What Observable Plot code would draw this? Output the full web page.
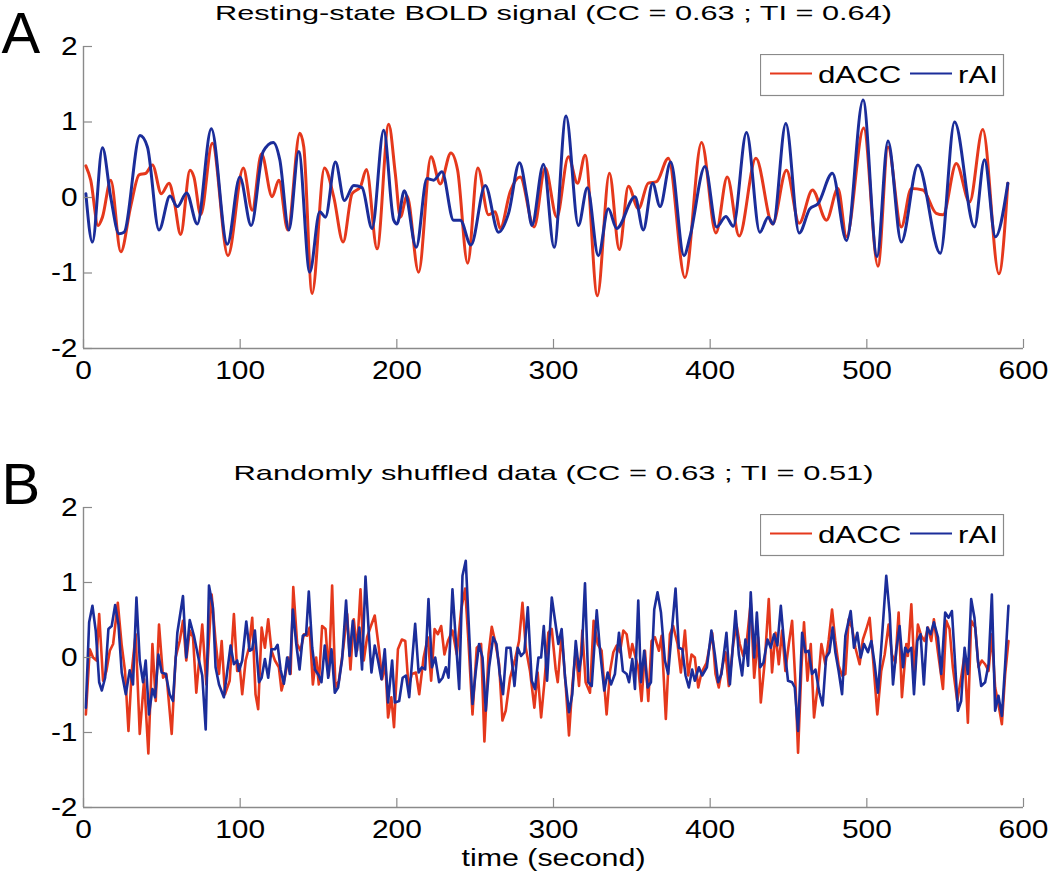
<!DOCTYPE html>
<html><head><meta charset="utf-8">
<script src="https://cdn.jsdelivr.net/npm/d3@7"></script>
<script src="https://cdn.jsdelivr.net/npm/@observablehq/plot@0.6"></script>
<style>
body{margin:0;background:#fff;}
#wrap{position:relative;width:1050px;height:876px;overflow:hidden;}
#wrap svg{display:block;}
.legend{position:absolute;left:760px;}
</style></head><body><div id="wrap"></div>
<script>
// ---------- data ----------
const xTicks = [0, 100, 200, 300, 400, 500, 600];
const yTicks = [-2, -1, 0, 1, 2];
const seriesNames = ["dACC", "rAI"];
const titleA = "Resting-state BOLD signal (CC = 0.63 ; TI = 0.64)";
const titleB = "Randomly shuffled data (CC = 0.63 ; TI = 0.51)";
const xLabel = "time (second)";

const restDACC = [[1.5,0.42],[4.6,0.23],[9.3,-0.37],[12.1,-0.26],[17.4,0.23],[23.8,-0.72],[30.1,-0.12],[35.5,0.30],[39.7,0.32],[44.0,0.43],[49.7,0.05],[54.6,0.19],[57.8,-0.04],[62.0,-0.49],[68.0,0.36],[70.5,0.27],[74.8,-0.23],[82.2,0.72],[92.2,-0.77],[102.0,0.39],[107.7,-0.17],[113.6,0.58],[120.4,0.01],[124.7,0.23],[130.4,-0.43],[138.1,0.85],[140.6,0.67],[145.9,-1.27],[153.8,0.39],[159.7,0.01],[165.7,-0.59],[171.4,0.05],[176.7,0.14],[180.6,0.37],[187.4,-0.68],[194.8,0.97],[199.0,0.32],[202.2,-0.26],[206.5,0.02],[213.9,-0.99],[221.8,0.54],[227.7,0.18],[234.5,0.59],[238.8,0.36],[245.2,-0.87],[251.7,0.39],[258.5,-0.23],[262.8,-0.19],[266.0,-0.41],[272.4,0.08],[278.7,0.27],[287.6,-0.39],[294.7,0.39],[302.1,-0.26],[309.5,0.54],[315.3,0.19],[320.2,0.56],[328.0,-1.30],[335.7,0.32],[342.0,-0.69],[347.8,0.15],[354.2,-0.15],[360.5,0.19],[365.8,0.21],[373.3,0.52],[383.9,-1.06],[394.5,0.73],[403.7,-0.47],[410.9,0.27],[418.5,-0.51],[429.2,0.52],[439.8,-0.35],[448.7,0.36],[456.8,-0.34],[465.3,0.10],[474.2,-0.30],[481.6,0.12],[487.0,-0.52],[498.0,0.92],[507.1,-0.91],[513.5,0.67],[522.0,-0.39],[528.4,0.12],[535.8,0.10],[544.3,-0.21],[548.6,-0.23],[557.1,0.45],[565.6,-0.06],[574.0,0.90],[584.3,-1.01],[590.0,0.19]];

const restRAI = [[1.5,0.05],[5.7,-0.59],[12.1,0.66],[17.4,0.00],[22.7,-0.48],[25.9,-0.46],[36.1,0.82],[40.8,0.67],[48.2,-0.43],[55.2,0.02],[59.9,-0.12],[65.8,0.06],[72.6,-0.35],[81.6,0.91],[91.8,-0.62],[99.8,0.27],[107.0,-0.37],[114.7,0.61],[121.1,0.73],[125.3,0.50],[131.1,-0.43],[137.4,0.61],[144.4,-0.99],[150.8,-0.19],[154.4,-0.26],[160.8,0.47],[166.5,-0.04],[172.5,0.16],[177.8,0.13],[184.2,-0.41],[191.6,0.89],[198.0,-0.30],[200.1,-0.35],[204.8,0.09],[212.4,-0.66],[219.2,0.25],[223.5,0.23],[228.8,0.34],[236.2,-0.30],[240.5,-0.30],[247.3,-0.63],[256.4,0.16],[264.9,-0.46],[271.3,-0.21],[278.3,0.46],[283.0,0.01],[286.2,-0.37],[293.6,0.44],[300.4,-0.66],[308.0,1.08],[315.9,-0.37],[321.6,0.13],[328.6,-0.77],[335.0,-0.15],[340.3,-0.41],[352.0,0.01],[357.3,-0.43],[363.3,0.19],[368.0,-0.12],[374.8,0.47],[383.3,-0.77],[387.1,-0.52],[396.7,0.41],[404.1,-0.39],[410.0,-0.25],[414.7,-0.38],[423.2,0.86],[431.7,-0.46],[437.0,-0.26],[440.2,-0.35],[448.3,0.98],[456.8,-0.47],[463.6,-0.15],[468.9,-0.08],[478.0,0.32],[487.0,-0.57],[497.6,1.29],[506.5,-0.78],[513.5,0.75],[522.0,-0.59],[532.6,0.43],[546.9,-0.74],[556.0,1.00],[568.7,-0.39],[575.1,0.50],[582.1,-0.52],[590.0,0.19]];

const shufDACC = [[1.5,-0.76],[4.0,0.11],[6.1,0.00],[8.3,-0.04],[10.0,0.58],[12.5,-0.31],[14.6,-0.18],[16.8,0.09],[18.9,0.18],[21.9,0.73],[24.4,0.16],[26.5,-0.18],[28.7,-0.98],[30.8,-0.18],[33.3,0.31],[35.9,-1.02],[38.7,-0.29],[41.4,-1.28],[44.0,0.18],[46.1,-0.58],[48.2,0.44],[50.8,-0.27],[52.9,-0.22],[56.3,-1.02],[58.8,0.00],[61.4,0.22],[63.5,0.49],[65.6,-0.04],[67.8,0.36],[69.9,0.27],[72.0,-0.47],[75.8,0.44],[78.4,-0.36],[81.8,0.84],[84.3,0.22],[86.5,-0.22],[88.2,0.22],[90.3,-0.49],[93.3,-0.31],[96.0,0.58],[98.1,-0.18],[99.6,-0.09],[101.3,-0.49],[103.5,-0.04],[105.6,0.13],[107.7,0.53],[109.8,-0.49],[111.5,-0.69],[113.7,0.40],[115.8,0.13],[117.9,0.51],[120.0,0.09],[122.2,-0.04],[124.7,-0.13],[126.4,-0.44],[128.5,-0.27],[130.7,0.00],[132.2,-0.22],[133.9,0.94],[136.4,0.18],[138.5,0.09],[140.7,0.31],[142.8,0.29],[144.3,0.40],[146.4,-0.36],[148.5,0.00],[150.2,-0.36],[152.3,0.42],[154.5,0.38],[156.6,-0.24],[158.7,0.96],[160.8,-0.40],[163.0,-0.31],[165.5,0.07],[168.3,0.58],[170.4,-0.16],[172.5,0.51],[174.6,0.09],[176.8,0.91],[178.9,-0.04],[181.0,0.27],[183.1,0.40],[185.9,0.56],[188.5,0.13],[190.6,-0.29],[192.7,-0.09],[194.4,-0.80],[196.5,-0.53],[198.2,-0.93],[200.7,0.11],[203.2,0.24],[205.4,0.22],[207.5,-0.40],[209.6,-0.22],[212.2,-0.20],[214.3,-0.49],[217.1,0.00],[219.8,0.27],[221.9,-0.31],[224.1,0.38],[226.2,0.31],[228.3,0.42],[230.4,0.04],[232.6,0.22],[235.5,0.36],[238.3,0.04],[241.1,0.64],[243.6,0.92],[245.7,0.22],[248.3,-0.76],[251.0,0.13],[253.8,0.18],[255.9,-1.12],[258.5,0.04],[260.6,0.41],[262.7,0.22],[265.3,-0.09],[267.4,-0.84],[269.5,-0.71],[272.3,-0.27],[275.5,-0.02],[278.0,0.22],[280.2,0.73],[282.3,0.13],[285.0,-0.18],[287.8,-0.67],[289.9,-0.20],[292.1,-0.80],[294.2,-0.33],[296.7,0.33],[298.9,0.38],[301.4,-0.16],[302.7,-0.33],[305.2,0.31],[307.8,-0.38],[309.9,-1.04],[312.0,-0.38],[314.2,0.09],[316.3,-0.38],[318.4,0.36],[320.5,-0.33],[323.3,-0.47],[325.6,0.49],[328.2,0.18],[330.7,0.09],[333.9,-0.76],[336.1,-0.18],[338.2,0.07],[340.3,0.16],[342.4,0.07],[344.6,0.36],[346.7,0.31],[348.8,0.00],[350.3,0.18],[352.4,0.00],[354.1,-0.13],[356.2,-0.58],[358.4,0.09],[360.5,-0.58],[362.6,0.22],[364.7,0.27],[367.3,0.09],[369.0,0.29],[371.7,-0.82],[374.3,0.31],[376.4,0.42],[379.2,0.18],[381.3,-0.20],[383.9,0.36],[386.0,-0.24],[388.1,0.04],[390.2,0.00],[392.4,-0.40],[394.5,-0.20],[397.7,-0.07],[401.3,0.33],[403.4,-0.22],[405.5,-0.40],[407.7,-0.13],[409.8,0.07],[411.9,-0.38],[414.7,0.18],[416.8,0.44],[418.9,0.18],[421.1,0.02],[423.2,0.18],[425.9,0.73],[428.1,-0.27],[430.6,0.27],[432.3,-0.60],[434.9,-0.04],[437.4,0.78],[439.5,-0.20],[441.7,0.33],[443.8,-0.09],[445.9,0.36],[448.0,-0.18],[450.2,0.18],[452.3,0.49],[454.4,-0.33],[456.1,-1.27],[458.2,-0.16],[459.9,0.47],[462.1,-0.31],[464.2,0.18],[466.3,-0.80],[468.9,-0.33],[471.0,0.18],[473.5,-0.09],[475.7,0.24],[477.8,0.64],[479.9,0.22],[482.0,-0.11],[484.2,-0.24],[486.3,-0.22],[488.4,0.51],[490.5,0.40],[492.7,0.13],[495.4,-0.09],[497.5,0.24],[499.7,0.38],[501.8,0.53],[503.9,0.00],[506.7,-0.76],[509.2,-0.18],[511.4,0.04],[513.9,0.44],[516.0,0.04],[518.2,-0.07],[520.3,0.60],[522.4,-0.53],[525.2,0.18],[526.2,0.02],[528.4,0.71],[530.5,-0.22],[532.6,0.44],[534.7,0.29],[536.9,0.22],[539.0,0.40],[541.1,0.22],[542.8,0.51],[545.4,0.07],[548.6,-0.42],[550.7,0.49],[552.8,0.38],[554.9,-0.13],[557.7,-0.58],[560.2,-0.27],[562.4,0.04],[564.5,-0.87],[566.6,0.49],[569.2,0.40],[571.3,-0.13],[573.4,-0.04],[575.5,-0.09],[577.7,-0.18],[579.8,0.31],[581.9,-0.40],[584.0,-0.62],[586.2,-0.89],[588.3,-0.22],[590.4,0.22]];

const shufRAI = [[1.5,-0.67],[3.6,0.47],[5.7,0.69],[7.8,0.36],[10.0,-0.33],[11.7,-0.44],[13.8,-0.27],[15.9,0.38],[18.0,0.42],[20.2,0.70],[22.3,0.44],[24.4,-0.20],[27.0,-0.49],[29.5,-0.17],[31.6,-0.36],[33.8,0.80],[35.9,-0.04],[38.0,-0.33],[39.7,-0.04],[41.8,-0.76],[44.0,-0.42],[45.7,-0.53],[47.8,0.04],[49.9,-0.20],[52.5,-0.22],[55.0,-0.49],[57.1,-0.58],[59.9,0.33],[63.5,0.82],[65.6,0.00],[67.8,0.50],[70.5,0.29],[73.3,0.00],[75.8,-0.24],[78.0,-0.96],[80.1,0.96],[82.6,0.67],[84.3,-0.13],[86.5,-0.36],[89.6,-0.53],[93.9,0.16],[96.0,-0.09],[98.1,-0.04],[99.2,-0.18],[101.3,-0.04],[103.9,0.48],[106.0,0.09],[107.7,0.11],[109.4,0.36],[112.0,-0.33],[113.7,-0.27],[115.8,-0.02],[117.9,-0.27],[120.0,0.11],[122.2,0.11],[123.9,0.17],[125.8,-0.16],[127.9,-0.35],[130.0,0.00],[131.7,-0.22],[133.6,0.64],[135.8,0.18],[137.9,-0.16],[140.0,0.29],[142.1,0.31],[143.8,0.88],[146.0,0.13],[147.7,-0.16],[150.2,-0.24],[151.9,-0.33],[154.0,0.16],[156.2,-0.27],[158.3,0.11],[160.4,-0.47],[162.5,-0.40],[165.1,-0.02],[167.6,0.76],[169.8,0.02],[171.9,0.49],[174.0,0.02],[176.1,0.40],[177.8,-0.16],[180.0,1.08],[182.1,0.33],[183.8,-0.20],[185.9,0.16],[188.0,-0.04],[190.2,-0.29],[192.3,0.11],[194.4,-0.60],[197.0,-0.04],[198.7,-0.60],[201.5,-0.58],[203.7,-0.27],[205.8,-0.24],[207.9,-0.53],[210.0,0.02],[211.7,0.45],[213.9,-0.20],[216.0,-0.13],[218.1,-0.16],[220.2,0.78],[222.4,-0.13],[224.5,0.00],[227.0,-0.33],[229.2,-0.27],[231.3,-0.13],[233.0,-0.27],[235.5,0.91],[237.7,0.22],[239.8,-0.42],[241.9,1.09],[244.0,1.29],[246.2,0.31],[248.3,-0.62],[250.4,-0.18],[252.5,0.18],[254.7,0.00],[256.8,-0.71],[258.9,-0.13],[261.5,0.27],[263.6,0.18],[265.7,-0.22],[267.8,-0.49],[270.0,0.13],[272.5,0.13],[275.1,-0.38],[277.2,0.13],[279.3,0.02],[281.4,0.07],[283.6,0.67],[286.1,-0.31],[288.2,-0.42],[290.4,0.00],[292.1,0.00],[293.8,0.42],[295.9,-0.31],[298.9,0.80],[303.1,0.18],[305.2,0.38],[307.4,-0.27],[309.9,-0.73],[312.0,-0.49],[314.2,0.22],[316.3,-0.18],[318.0,0.04],[320.1,0.99],[322.2,-0.33],[324.4,-0.38],[327.6,0.63],[329.7,0.09],[332.4,-0.44],[334.6,-0.20],[336.7,-0.36],[339.2,-0.22],[341.8,0.33],[344.3,-0.18],[346.7,-0.22],[348.2,-0.33],[350.3,-0.02],[352.0,-0.42],[354.1,0.76],[355.8,-0.33],[357.9,0.09],[360.1,-0.40],[362.2,-0.33],[364.3,0.64],[366.4,0.87],[368.6,0.60],[371.1,-0.04],[373.2,-0.22],[375.8,0.42],[377.9,0.92],[380.0,0.13],[382.2,0.11],[384.3,-0.24],[386.4,-0.40],[388.5,-0.16],[390.2,-0.31],[392.8,-0.13],[394.9,-0.24],[397.9,-0.13],[400.8,0.36],[403.0,0.04],[405.1,-0.33],[407.2,-0.22],[410.4,0.33],[412.6,-0.36],[416.2,0.62],[418.3,0.04],[420.4,-0.24],[422.5,0.24],[424.2,-0.11],[425.9,0.87],[428.1,0.00],[429.8,0.60],[431.9,-0.13],[434.0,-0.07],[436.6,0.24],[438.7,0.13],[440.8,0.31],[442.9,0.16],[445.1,0.69],[447.6,0.09],[449.7,-0.31],[452.3,-0.33],[454.0,-0.40],[456.1,-0.98],[458.7,0.33],[460.8,0.07],[462.9,0.09],[465.0,-0.22],[467.2,-0.16],[469.7,-0.47],[471.8,-0.64],[474.0,0.00],[476.1,0.07],[478.2,0.40],[479.9,0.07],[482.0,-0.18],[484.2,-0.49],[486.3,0.29],[489.7,0.62],[491.8,0.13],[493.9,0.33],[496.1,0.00],[498.2,0.18],[500.7,0.07],[502.9,0.22],[505.0,-0.09],[507.1,-0.47],[509.2,0.13],[512.4,1.09],[514.6,0.58],[516.7,-0.36],[518.8,0.09],[520.9,0.42],[523.1,-0.13],[524.5,0.13],[526.2,0.07],[528.4,0.13],[530.1,-0.49],[532.2,0.22],[534.3,0.31],[536.4,-0.36],[538.6,0.40],[540.7,0.31],[542.8,0.47],[545.4,0.27],[547.5,-0.22],[550.0,0.60],[552.2,0.53],[554.3,0.62],[556.0,0.04],[558.1,-0.71],[560.2,-0.58],[562.4,0.13],[564.5,-0.22],[566.6,0.78],[568.7,0.53],[570.9,-0.04],[573.0,-0.38],[575.5,-0.33],[577.7,-0.09],[579.8,0.84],[581.9,-0.71],[584.0,-0.51],[586.2,-0.78],[588.3,-0.09],[590.4,0.69]];

// ---------- style ----------
const FONT = '"Liberation Sans", Arial, Helvetica, sans-serif';
const RED = "#e5381c";
const BLUE = "#1b2d9a";
const AXIS = "#8a8a8a";
const W = 1050, ML = 83, MR = 27;
const fmt = d => String(d);

function toRows(pairs, series) { return pairs.map(([t, v]) => ({t, v, series})); }

function panel({dacc, rai, title, letter, height, mt, mb, curve, sw, withLabel, titleDy, letterDy}) {
  const rows = [...toRows(dacc, seriesNames[0]), ...toRows(rai, seriesNames[1])];
  const plotH = height - mt - mb, plotW = W - ML - MR;
  return Plot.plot({
    width: W, height, marginLeft: ML, marginRight: MR, marginTop: mt, marginBottom: mb,
    style: {fontFamily: FONT, fontSize: "26px", color: "#000", background: "transparent", overflow: "visible"},
    x: {domain: [0, 600], label: null},
    y: {domain: [-2, 2], label: null},
    color: {domain: seriesNames, range: [RED, BLUE]},
    marks: [
      Plot.line(rows, {x: "t", y: "v", stroke: "series", strokeWidth: sw, curve, strokeLinejoin: "round"}),
      Plot.ruleY([-2], {stroke: AXIS, strokeWidth: 1.4}),
      Plot.ruleX([0], {stroke: AXIS, strokeWidth: 1.4}),
      Plot.tickX(xTicks, {x: d => d, insetTop: plotH - 9, stroke: AXIS, strokeWidth: 1.2}),
      Plot.tickY(yTicks, {y: d => d, insetRight: plotW - 9, stroke: AXIS, strokeWidth: 1.2}),
      Plot.axisX(xTicks, {tickSize: 0, tickPadding: 12, label: null, fontSize: 26, fill: "#000", tickFormat: fmt}),
      Plot.axisY(yTicks, {tickSize: 0, tickPadding: 6, label: null, fontSize: 26, fill: "#000", tickFormat: fmt}),
      Plot.text([title], {frameAnchor: "top", dy: titleDy, fontSize: 21, lineAnchor: "middle", fill: "#000"}),
      Plot.text([letter], {frameAnchor: "top-left", textAnchor: "start", dx: -82, dy: letterDy, fontSize: 58, lineAnchor: "middle", fill: "#000"}),
      withLabel ? Plot.text([xLabel], {frameAnchor: "bottom", dy: 51, fontSize: 23, lineAnchor: "middle", fill: "#000"}) : null
    ]
  });
}

const wrap = document.getElementById("wrap");
const svgA = panel({dacc: restDACC, rai: restRAI, title: titleA, letter: "A", height: 430, mt: 46, mb: 82,
  curve: "monotone-x", sw: 3, withLabel: false, titleDy: -33.5, letterDy: -12});
const svgB = panel({dacc: shufDACC, rai: shufRAI, title: titleB, letter: "B", height: 446, mt: 77, mb: 69,
  curve: "linear", sw: 2.6, withLabel: true, titleDy: -34.5, letterDy: -22});
wrap.appendChild(svgA);
wrap.appendChild(svgB);

// legends (overlay boxes, top-right of each panel)
function legend(top) {
  const s = d3.create("svg").attr("class", "legend").attr("width", 245).attr("height", 43)
    .style("top", top + "px").style("font-family", FONT);
  s.append("rect").attr("x", 0.5).attr("y", 0.5).attr("width", 243).attr("height", 41)
    .attr("fill", "#fff").attr("stroke", "#8a8a8a").attr("stroke-width", 1.2);
  const items = [{name: seriesNames[0], color: RED, x: 10}, {name: seriesNames[1], color: BLUE, x: 150}];
  for (const it of items) {
    s.append("line").attr("x1", it.x).attr("x2", it.x + 42).attr("y1", 19.5).attr("y2", 19.5)
      .attr("stroke", it.color).attr("stroke-width", 2);
    s.append("text").attr("x", it.x + 48).attr("y", 29).attr("font-size", 24).attr("fill", "#000").text(it.name);
  }
  wrap.appendChild(s.node());
  return s.node();
}
const legA = legend(54);
const legB = legend(514);

// horizontal stretch of text to match the reference's wide lettering
const targets = {[titleA]: 677, [titleB]: 640, [xLabel]: 184, "A": null, "B": null};
function stretch(root, factor) {
  root.querySelectorAll("text").forEach(el => {
    const txt = el.textContent;
    if (txt in targets && targets[txt] === null) return;
    const w = el.getComputedTextLength();
    if (!(w > 0)) return;
    const target = targets[txt] != null ? targets[txt] : w * factor;
    const b0 = el.getBBox();
    el.setAttribute("textLength", target);
    el.setAttribute("lengthAdjust", "spacingAndGlyphs");
    const b1 = el.getBBox();
    const anchor = getComputedStyle(el).textAnchor;
    let shift = 0;
    if (anchor === "middle") shift = (b0.x + b0.width / 2) - (b1.x + b1.width / 2);
    else if (anchor === "end") shift = (b0.x + b0.width) - (b1.x + b1.width);
    else shift = b0.x - b1.x;
    if (Math.abs(shift) > 0.1) {
      el.setAttribute("transform", ((el.getAttribute("transform") || "") + ` translate(${shift},0)`).trim());
    }
  });
}
stretch(svgA, 1.15);
stretch(svgB, 1.15);
stretch(legA, 1.3);
stretch(legB, 1.3);
</script></body></html>
